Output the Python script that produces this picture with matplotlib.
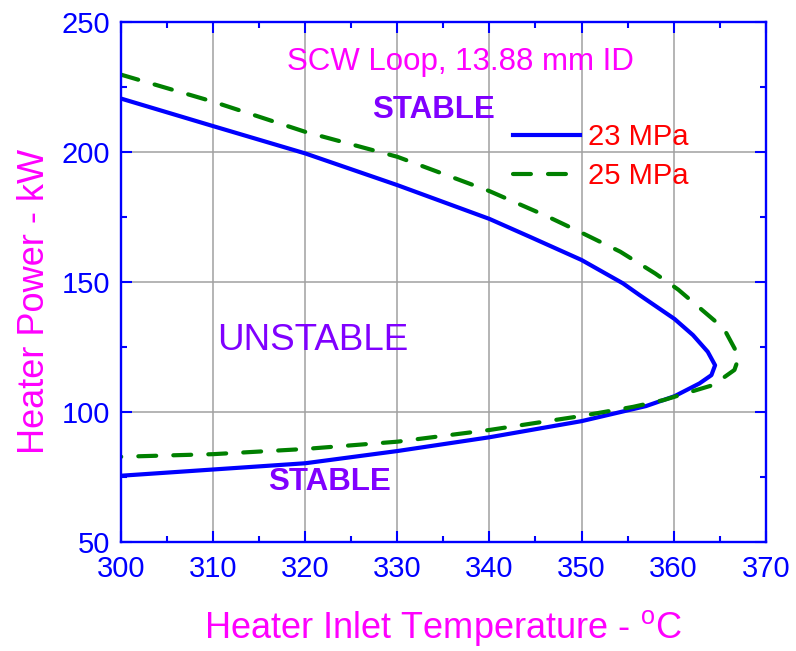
import numpy as np
import matplotlib.pyplot as plt
from matplotlib.ticker import MultipleLocator

plt.rcParams['font.family'] = ['Liberation Sans', 'DejaVu Sans']
plt.rcParams['mathtext.fontset'] = 'custom'
plt.rcParams['mathtext.rm'] = 'Liberation Sans'

# 23 MPa stability boundary (temperature, power)
t23 = [300, 310, 320, 330, 340, 344.4, 350, 354.5, 356.3, 360.1, 362.1, 363.7, 364.5,
       364.1, 362.8, 360.1, 357, 350, 340, 330, 320, 310, 300]
p23 = [220.6, 210, 199.5, 187.3, 174.3, 167.4, 158.5, 149.5, 145, 135.8, 129.6, 123.2, 118,
       114.2, 111, 106.1, 102.3, 96.5, 90.3, 85, 80.3, 77.9, 75.5]

# 25 MPa stability boundary
t25 = [300, 310, 320, 330, 340, 346.2, 350, 354.2, 358, 360.5, 364.8, 365.7, 367.1, 366.6,
       364.3, 362.7, 358.9, 355.6, 350, 340, 330, 320, 310, 300]
p25 = [229.8, 219.4, 207.8, 198.2, 185, 175.4, 169, 161.7, 153.3, 147.1, 134.1, 130.5,
       121.3, 116.2, 110.4, 108.7, 104.6, 102, 98.5, 93.1, 88.6, 85.8, 83.8, 82.8]

fig = plt.figure(figsize=(7.96, 6.51), dpi=100)
ax = fig.add_axes([0.152, 0.1674, 0.810, 0.7986])

ax.plot(t23, p23, color='#0000ff', lw=3, label='23 MPa', solid_joinstyle='round')
ax.plot(t25, p25, color='#008000', lw=3, ls=(0, (4.3, 4.1)), label='25 MPa',
        dash_capstyle='round', dash_joinstyle='round')

ax.set_xlim(300, 370)
ax.set_ylim(50, 250)
ax.xaxis.set_major_locator(MultipleLocator(10))
ax.xaxis.set_minor_locator(MultipleLocator(5))
ax.yaxis.set_major_locator(MultipleLocator(50))
ax.yaxis.set_minor_locator(MultipleLocator(25))
ax.grid(True, which='major', color='#a0a0a0', lw=1.1)

for s in ax.spines.values():
    s.set_color('#0000ff')
    s.set_linewidth(1.7)
ax.tick_params(which='both', direction='in', top=True, right=True, color='#0000ff',
               labelcolor='#0000ff', labelsize=21, width=1.5)
ax.tick_params(which='major', length=8)
ax.tick_params(which='minor', length=4.5)
ax.tick_params(axis='x', pad=9)
ax.tick_params(axis='y', pad=8)

ax.set_xlabel(r'Heater Inlet Temperature - $^{\mathrm{o}}$C', color='#ff00ff', fontsize=26, labelpad=18)
ax.set_ylabel('Heater Power - kW', color='#ff00ff', fontsize=26, labelpad=7, y=0.463)

ax.text(336.85, 231.5, 'SCW Loop, 13.88 mm ID', color='#ff00ff', fontsize=22.5,
        ha='center', va='baseline')
ax.text(333.9, 213.1, 'STABLE', color='#8000ff', fontsize=22.5, fontweight='bold',
        ha='center', va='baseline')
ax.text(322.6, 70, 'STABLE', color='#8000ff', fontsize=22.5, fontweight='bold',
        ha='center', va='baseline')
ax.text(320.8, 123.8, 'UNSTABLE', color='#8000ff', fontsize=26.5,
        ha='center', va='baseline')

leg = ax.legend(loc='upper left', bbox_to_anchor=(0.608, 0.806), frameon=False,
                fontsize=21, handlelength=2.3, handletextpad=0.28, labelspacing=0.38,
                borderpad=0, borderaxespad=0)
for t in leg.get_texts():
    t.set_color('#ff0000')

fig.savefig('out.png', dpi=100)
